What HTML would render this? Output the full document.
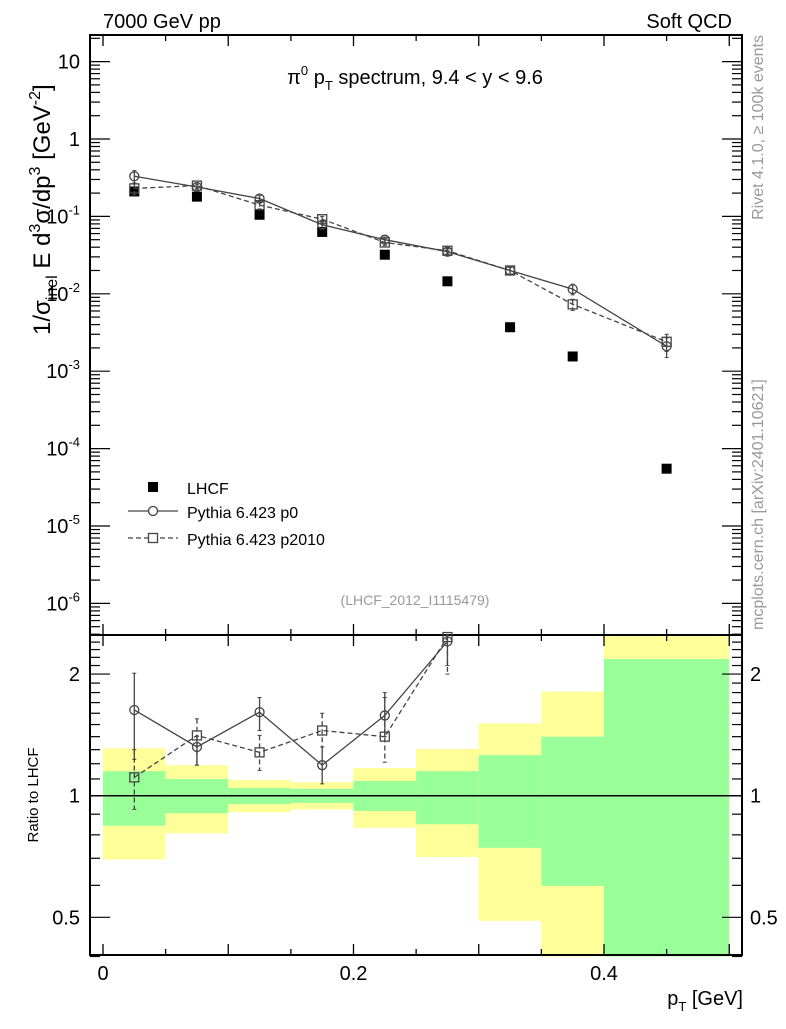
<!DOCTYPE html>
<html><head><meta charset="utf-8"><style>
body{margin:0;background:#fff}
svg{font-family:"Liberation Sans",sans-serif}
</style></head><body>
<svg id="c" width="786" height="1024" viewBox="0 0 786 1024" xmlns="http://www.w3.org/2000/svg">
<text x="103" y="28" font-size="20">7000 GeV pp</text>
<text x="732" y="28" font-size="20" text-anchor="end">Soft QCD</text>
<text x="415" y="84" font-size="20" text-anchor="middle">π<tspan font-size="13" dy="-9">0</tspan><tspan dy="9"> p</tspan><tspan font-size="13" dy="6">T</tspan><tspan dy="-6"> spectrum, 9.4 &lt; y &lt; 9.6</tspan></text>
<text x="415" y="605" font-size="14" fill="#999" text-anchor="middle">(LHCF_2012_I1115479)</text>
<text transform="translate(763,35) rotate(-90)" font-size="16" fill="#999" text-anchor="end">Rivet 4.1.0, ≥ 100k events</text>
<text transform="translate(763,630) rotate(-90)" font-size="16" fill="#999">mcplots.cern.ch [arXiv:2401.10621]</text>
<text transform="translate(50,335) rotate(-90)" font-size="24">1/σ<tspan font-size="16" dy="7">inel</tspan><tspan dy="-7"> E d</tspan><tspan font-size="16" dy="-10">3</tspan><tspan dy="10">σ/dp</tspan><tspan font-size="16" dy="-10">3</tspan><tspan dy="10"> [GeV</tspan><tspan font-size="16" dy="-10">-2</tspan><tspan dy="10">]</tspan></text>
<text transform="translate(38,795) rotate(-90)" font-size="15" text-anchor="middle">Ratio to LHCF</text>
<text x="743" y="1005" font-size="20" text-anchor="end">p<tspan font-size="13" dy="6">T</tspan><tspan dy="-6"> [GeV]</tspan></text>
<g id="g"></g>
</svg>
<script>
const xCenters=[0.025,0.075,0.125,0.175,0.225,0.275,0.325,0.375,0.45];
const binEdges=[0,0.05,0.1,0.15,0.2,0.25,0.3,0.35,0.4,0.5];
const lhcf=[0.21,0.18,0.105,0.063,0.032,0.0145,0.0037,0.00155,5.5e-5];
const p0=[0.33,0.24,0.17,0.078,0.05,0.035,0.02,0.0115,0.0021];
const p0Err=[0.06,0.02,0.015,0.008,0.004,0.003,0.002,0.0018,0.0006];
const p2010=[0.23,0.25,0.14,0.092,0.046,0.036,0.02,0.0073,0.0024];
const p2010Err=[0.04,0.02,0.015,0.008,0.004,0.003,0.002,0.0012,0.0006];
const greenUp=[1.15,1.10,1.045,1.04,1.087,1.15,1.26,1.40,2.18];
const greenLo=[0.843,0.905,0.953,0.96,0.917,0.85,0.743,0.598,0.3];
const yellowUp=[1.31,1.19,1.094,1.08,1.17,1.305,1.51,1.81,3];
const yellowLo=[0.695,0.807,0.91,0.925,0.833,0.705,0.49,0.3,0.3];
const r0=[1.63,1.32,1.61,1.19,1.58,2.41];
const r0Up=[2.01,1.40,1.75,1.32,1.80,2.5];
const r0Lo=[1.23,1.19,1.45,1.07,1.40,2.1];
const r1=[1.11,1.41,1.28,1.45,1.40,2.47];
const r1Up=[1.30,1.55,1.41,1.60,1.75,2.5];
const r1Lo=[0.925,1.19,1.155,1.32,1.21,2.0];
const mainTicks=[10,1,0.1,0.01,0.001,1e-4,1e-5,1e-6];
const mainTickLabels=["10","1","10^-1","10^-2","10^-3","10^-4","10^-5","10^-6"];
const ratioTicks=[0.5,1,2];
const xTicks=[0,0.2,0.4];
const xTickLabels=["0","0.2","0.4"];

const L=90,R=742,T=35,M=635,B=955;
const X=v=>103+v*1252.5;
const Y=v=>139-Math.log10(v)*77.4;
const YR=v=>795.7-Math.log10(v)*404;
const g=document.getElementById('g');
const NS='http://www.w3.org/2000/svg';
function mk(t,a,p){const e=document.createElementNS(NS,t);for(const k in a)e.setAttribute(k,a[k]);(p||g).appendChild(e);return e;}
const clipR=v=>Math.min(Math.max(v,0.4),2.5);

for(let i=0;i<9;i++){
 let e=mk('rect',{x:X(binEdges[i]),y:YR(clipR(yellowUp[i])),width:X(binEdges[i+1])-X(binEdges[i]),height:YR(clipR(yellowLo[i]))-YR(clipR(yellowUp[i])),fill:'#ffff99'});
 
 
 e=mk('rect',{x:X(binEdges[i]),y:YR(clipR(greenUp[i])),width:X(binEdges[i+1])-X(binEdges[i]),height:YR(clipR(greenLo[i]))-YR(clipR(greenUp[i])),fill:'#99ff99'});
 
 
}
mk('line',{x1:L,x2:R,y1:YR(1),y2:YR(1),stroke:'#000','stroke-width':1.5});

mk('rect',{x:L,y:T,width:R-L,height:M-T,fill:'none',stroke:'#000','stroke-width':2});
mk('rect',{x:L,y:M,width:R-L,height:B-M,fill:'none',stroke:'#000','stroke-width':2});

for(let k=0;k<=10;k++){const v=k*0.05,x=X(v),len=k%2?6:11;
 [[T,T+len],[M,M-len],[M,M+len],[B,B-len]].forEach(p=>mk('line',{x1:x,x2:x,y1:p[0],y2:p[1],stroke:'#000','stroke-width':1.3}));}
xTicks.forEach((v,i)=>{const t=mk('text',{x:X(v),y:980,'font-size':20,'text-anchor':'middle'});t.textContent=xTickLabels[i];
 
 });

for(let d=-7;d<=1;d++)for(let m=1;m<=9;m++){const v=m*Math.pow(10,d),y=Y(v);if(y<T||y>M)continue;const len=m==1?20:10;
 mk('line',{x1:L,x2:L+len,y1:y,y2:y,stroke:'#000','stroke-width':1.2});mk('line',{x1:R,x2:R-len,y1:y,y2:y,stroke:'#000','stroke-width':1.2});}
mainTicks.forEach((v,i)=>{const s=mainTickLabels[i];const t=mk('text',{x:80,y:Y(v)+7,'font-size':20,'text-anchor':'end'});
 if(s.includes('^')){const [b,e]=s.split('^');t.innerHTML=b+'<tspan font-size="13" dy="-9">'+e+'</tspan>';}else t.textContent=s;
 
 });

for(let v=0.4;v<=2.51;v+=0.1){const vv=Math.round(v*10)/10,y=YR(vv);const maj=[0.5,1,2].includes(vv);const len=maj?20:10;
 mk('line',{x1:L,x2:L+len,y1:y,y2:y,stroke:'#000','stroke-width':1.2});mk('line',{x1:R,x2:R-len,y1:y,y2:y,stroke:'#000','stroke-width':1.2});}
ratioTicks.forEach(v=>{let t=mk('text',{x:80,y:YR(v)+7,'font-size':20,'text-anchor':'end'});t.textContent=String(v);
 
 
 t=mk('text',{x:750,y:YR(v)+7,'font-size':20});t.textContent=String(v);
 
 });

const col='#444';
function series(vals,errs,yf,dash,marker,name,up,lo){
 const pts=vals.map((v,i)=>X(xCenters[i])+','+yf(v)).join(' ');
 const pl=mk('polyline',{points:pts,fill:'none',stroke:col,'stroke-width':1.3,'stroke-dasharray':dash});
 
 
 vals.forEach((v,i)=>{const x=X(xCenters[i]);
  const y1=up?yf(up[i]):yf(v+errs[i]),y2=lo?yf(lo[i]):yf(Math.max(v-errs[i],1e-9));
  mk('line',{x1:x,x2:x,y1:y1,y2:y2,stroke:col,'stroke-width':1.3,'stroke-dasharray':dash});
  mk('line',{x1:x-2,x2:x+2,y1:y1,y2:y1,stroke:col});mk('line',{x1:x-2,x2:x+2,y1:y2,y2:y2,stroke:col});
  let m;const y=yf(v);
  if(marker=='c')m=mk('circle',{cx:x,cy:y,r:4.5,fill:'none',stroke:col,'stroke-width':1.3});
  else m=mk('rect',{x:x-4.5,y:y-4.5,width:9,height:9,fill:'none',stroke:col,'stroke-width':1.3});
  
  });
}
lhcf.forEach((v,i)=>{const m=mk('rect',{x:X(xCenters[i])-5,y:Y(v)-5,width:10,height:10,fill:'#000'});
 
 });
series(p0,p0Err,Y,'','c','p0');
series(p2010,p2010Err,Y,'5,3','s','p2010');
const YRc=v=>YR(clipR(v));
series(r1,null,YRc,'5,3','s','ratio-p2010',r1Up,r1Lo);
series(r0,null,YRc,'','c','ratio-p0',r0Up,r0Lo);

const lg=mk('g',{});


mk('rect',{x:148,y:482,width:10,height:10,fill:'#000'},lg);
mk('line',{x1:128,x2:178,y1:511,y2:511,stroke:col,'stroke-width':1.3},lg);
mk('circle',{cx:153,cy:511,r:4.5,fill:'#fff',stroke:col,'stroke-width':1.3},lg);
mk('line',{x1:128,x2:178,y1:538,y2:538,stroke:col,'stroke-width':1.3,'stroke-dasharray':'5,3'},lg);
mk('rect',{x:148.5,y:533.5,width:9,height:9,fill:'#fff',stroke:col,'stroke-width':1.3},lg);
[['LHCF',494],['Pythia 6.423 p0',518],['Pythia 6.423 p2010',545]].forEach(a=>{const t=mk('text',{x:187,y:a[1],'font-size':16},lg);t.textContent=a[0];
 
 });
</script>
</body></html>
